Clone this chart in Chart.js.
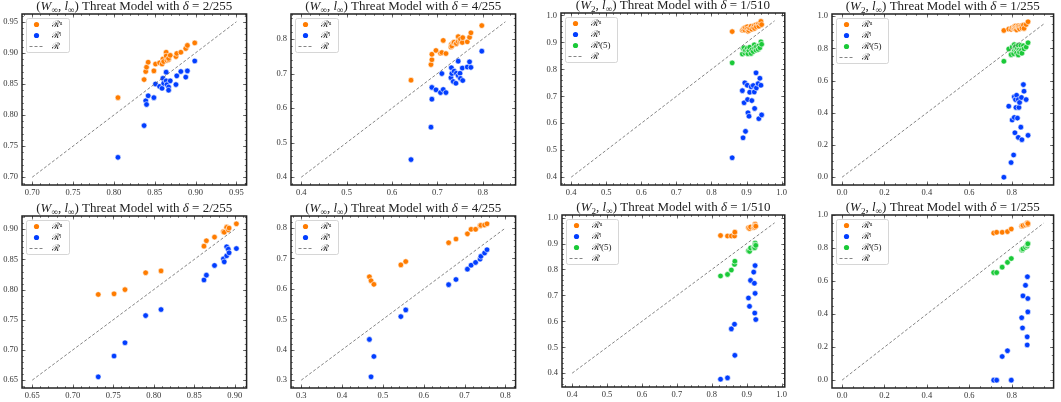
<!DOCTYPE html>
<html>
<head>
<meta charset="utf-8">
<script src="https://cdn.jsdelivr.net/npm/chart.js@4.4.1/dist/chart.umd.min.js"></script>
<style>
  body { margin: 0; background: #fff; }
  #page { position: relative; width: 1061px; height: 402px; overflow: hidden; }
  .cell { position: absolute; }
</style>
</head>
<body>
<div id="page"></div>
<script>
// ---- legend labels ----
const labelUpper = 'ℛᵘ';
const labelLower = 'ℛˡ';
const labelLower5 = 'ℛˡ(5)';
const labelRef = 'ℛ';

// ---- panel 1: (W_inf, l_inf), delta = 2/255 ----
const p1X     = [0.805,0.837,0.839,0.840,0.842,0.849,0.851,0.856,0.859,0.860,0.861,0.864,0.864,0.865,0.867,0.867,0.869,0.876,0.877,0.882,0.888,0.890,0.899];
const p1Upper = [0.828,0.857,0.870,0.877,0.885,0.871,0.882,0.884,0.882,0.890,0.886,0.901,0.895,0.888,0.889,0.891,0.896,0.894,0.899,0.901,0.907,0.912,0.916];
const p1Lower = [0.732,0.783,0.823,0.817,0.831,0.828,0.850,0.846,0.843,0.859,0.851,0.855,0.869,0.849,0.845,0.840,0.855,0.849,0.863,0.870,0.861,0.871,0.887];
const p1Ref   = [0.70, 0.95];
const p1Ticks = [0.70, 0.75, 0.80, 0.85, 0.90, 0.95];

// ---- panel 2: (W_inf, l_inf), delta = 4/255 ----
const p2X     = [0.642,0.686,0.688,0.688,0.697,0.707,0.710,0.713,0.719,0.730,0.731,0.732,0.735,0.737,0.741,0.742,0.746,0.746,0.750,0.751,0.755,0.756,0.766,0.771,0.774,0.798];
const p2Upper = [0.681,0.726,0.740,0.756,0.767,0.759,0.761,0.796,0.758,0.777,0.785,0.780,0.789,0.791,0.786,0.787,0.793,0.807,0.795,0.800,0.790,0.804,0.792,0.805,0.818,0.839];
const p2Lower = [0.451,0.545,0.626,0.660,0.653,0.645,0.700,0.654,0.645,0.688,0.717,0.700,0.677,0.707,0.672,0.701,0.736,0.694,0.701,0.686,0.716,0.680,0.719,0.734,0.718,0.765];
const p2Ref   = [0.40, 0.85];
const p2Ticks = [0.4, 0.5, 0.6, 0.7, 0.8];

// ---- panel 3: (W_2, l_inf), delta = 1/510 ----
const p3X      = [0.859,0.888,0.890,0.893,0.895,0.897,0.902,0.903,0.904,0.907,0.909,0.913,0.915,0.919,0.922,0.923,0.927,0.928,0.933,0.935,0.938,0.941,0.943];
const p3Upper  = [0.940,0.945,0.948,0.952,0.946,0.955,0.958,0.950,0.941,0.944,0.953,0.960,0.949,0.956,0.962,0.952,0.965,0.958,0.968,0.960,0.972,0.978,0.966];
const p3Lower  = [0.472,0.721,0.546,0.676,0.750,0.570,0.741,0.688,0.639,0.626,0.715,0.735,0.684,0.740,0.716,0.655,0.787,0.731,0.747,0.617,0.767,0.741,0.631];
const p3Lower5 = [0.824,0.857,0.877,0.880,0.861,0.870,0.878,0.865,0.858,0.870,0.882,0.859,0.872,0.866,0.891,0.878,0.871,0.884,0.874,0.887,0.880,0.902,0.893];
const p3Ref    = [0.40, 0.98];
const p3Ticks  = [0.4, 0.5, 0.6, 0.7, 0.8, 0.9, 1.0];

// ---- panel 4: (W_2, l_inf), delta = 1/255 ----
const p4X      = [0.763,0.786,0.797,0.802,0.809,0.812,0.812,0.815,0.818,0.820,0.823,0.827,0.831,0.831,0.834,0.837,0.843,0.846,0.848,0.855,0.858,0.868,0.877];
const p4Upper  = [0.911,0.920,0.918,0.928,0.925,0.936,0.930,0.922,0.938,0.927,0.915,0.934,0.929,0.940,0.932,0.921,0.940,0.935,0.926,0.944,0.924,0.948,0.965];
const p4Lower  = [0.000,0.441,0.091,0.355,0.138,0.371,0.499,0.276,0.482,0.433,0.509,0.367,0.247,0.482,0.433,0.464,0.311,0.495,0.233,0.575,0.534,0.482,0.260];
const p4Lower5 = [0.720,0.796,0.761,0.808,0.767,0.823,0.790,0.804,0.812,0.781,0.771,0.800,0.759,0.819,0.788,0.776,0.819,0.788,0.770,0.816,0.797,0.808,0.835];
const p4Ref    = [0.00, 0.95];
const p4XTicks = [0.0, 0.2, 0.4, 0.6, 0.8];
const p4YTicks = [0.0, 0.2, 0.4, 0.6, 0.8, 1.0];

// ---- panel 5: (W_inf, l_inf), delta = 2/255 ----
const p5X     = [0.7315,0.751,0.7645,0.790,0.809,0.862,0.865,0.875,0.886,0.887,0.890,0.890,0.892,0.893,0.902];
const p5Upper = [0.792,0.793,0.800,0.828,0.831,0.872,0.881,0.887,0.896,0.895,0.904,0.903,0.899,0.902,0.909];
const p5Lower = [0.6555,0.690,0.712,0.757,0.767,0.816,0.824,0.840,0.851,0.846,0.856,0.871,0.867,0.861,0.868];
const p5Ref   = [0.65, 0.90];
const p5Ticks = [0.65, 0.70, 0.75, 0.80, 0.85, 0.90];

// ---- panel 6: (W_inf, l_inf), delta = 4/255 ----
const p6X     = [0.467,0.471,0.478,0.544,0.556,0.661,0.679,0.707,0.716,0.727,0.738,0.740,0.749,0.755];
const p6Upper = [0.640,0.627,0.615,0.679,0.690,0.752,0.764,0.781,0.796,0.796,0.808,0.809,0.810,0.814];
const p6Lower = [0.434,0.311,0.378,0.509,0.531,0.614,0.631,0.665,0.678,0.687,0.698,0.707,0.718,0.729];
const p6Ref   = [0.30, 0.80];
const p6Ticks = [0.3, 0.4, 0.5, 0.6, 0.7, 0.8];

// ---- panel 7: (W_2, l_inf), delta = 1/510 ----
const p7X      = [0.825,0.845,0.856,0.865,0.866,0.905,0.908,0.911,0.920,0.922,0.923,0.924,0.924,0.926];
const p7Upper  = [0.931,0.929,0.929,0.929,0.944,0.961,0.958,0.964,0.962,0.966,0.963,0.975,0.969,0.967];
const p7Lower  = [0.377,0.382,0.571,0.589,0.469,0.690,0.658,0.758,0.790,0.747,0.632,0.815,0.708,0.607];
const p7Lower5 = [0.775,0.781,0.798,0.820,0.832,0.872,0.870,0.883,0.885,0.888,0.884,0.902,0.895,0.893];
const p7Ref    = [0.40, 0.98];
const p7Ticks  = [0.4, 0.5, 0.6, 0.7, 0.8, 0.9, 1.0];

// ---- panel 8: (W_2, l_inf), delta = 1/255 ----
const p8X      = [0.715,0.729,0.755,0.780,0.798,0.847,0.851,0.853,0.865,0.873,0.873,0.874,0.876,0.876];
const p8Upper  = [0.890,0.895,0.895,0.899,0.915,0.932,0.934,0.936,0.940,0.950,0.946,0.952,0.942,0.948];
const p8Lower  = [0.000,0.000,0.143,0.178,0.000,0.378,0.316,0.510,0.574,0.262,0.213,0.626,0.494,0.413];
const p8Lower5 = [0.651,0.651,0.684,0.713,0.736,0.787,0.790,0.795,0.804,0.814,0.812,0.822,0.829,0.825];
const p8Ref    = [0.00, 0.95];
const p8XTicks = [0.0, 0.2, 0.4, 0.6, 0.8];
const p8YTicks = [0.0, 0.2, 0.4, 0.6, 0.8, 1.0];

const ORANGE = '#ff7c00';
const BLUE = '#023eff';
const GREEN = '#1ac938';
const SERIF = '"Liberation Serif", "DejaVu Serif", serif';

function titleSegs(space, frac) {
    return [
        { t: '(', s: 'n' }, { t: 'W', s: 'i' }, { t: space, s: 'sub' },
        { t: ', ', s: 'n' }, { t: 'l', s: 'i' }, { t: '∞', s: 'sub' },
        { t: ') Threat Model with ', s: 'n' }, { t: 'δ', s: 'i' },
        { t: ' = ' + frac, s: 'n' }
    ];
}

const panels = [
    { title: titleSegs('∞', '2/255'), x: p1X, u: p1Upper, l: p1Lower, ref: p1Ref, xt: p1Ticks, yt: p1Ticks, dec: 2, box: [22, 14, 247, 185], row: 0 },
    { title: titleSegs('∞', '4/255'), x: p2X, u: p2Upper, l: p2Lower, ref: p2Ref, xt: p2Ticks, yt: p2Ticks, dec: 1, box: [291, 14, 516, 185], row: 0 },
    { title: titleSegs('2', '1/510'), x: p3X, u: p3Upper, l: p3Lower, l5: p3Lower5, ref: p3Ref, xt: p3Ticks, yt: p3Ticks, dec: 1, box: [561, 13, 787, 185], row: 0 },
    { title: titleSegs('2', '1/255'), x: p4X, u: p4Upper, l: p4Lower, l5: p4Lower5, ref: p4Ref, xt: p4XTicks, yt: p4YTicks, dec: 1, box: [832, 14, 1054, 185], row: 0 },
    { title: titleSegs('∞', '2/255'), x: p5X, u: p5Upper, l: p5Lower, ref: p5Ref, xt: p5Ticks, yt: p5Ticks, dec: 2, box: [22, 216, 247, 388], row: 200 },
    { title: titleSegs('∞', '4/255'), x: p6X, u: p6Upper, l: p6Lower, ref: p6Ref, xt: p6Ticks, yt: p6Ticks, dec: 1, box: [291, 216, 516, 388], row: 200 },
    { title: titleSegs('2', '1/510'), x: p7X, u: p7Upper, l: p7Lower, l5: p7Lower5, ref: p7Ref, xt: p7Ticks, yt: p7Ticks, dec: 1, box: [562, 215, 787, 387], row: 200 },
    { title: titleSegs('2', '1/255'), x: p8X, u: p8Upper, l: p8Lower, l5: p8Lower5, ref: p8Ref, xt: p8XTicks, yt: p8YTicks, dec: 1, box: [832, 215, 1054, 388], row: 200 }
];

// matplotlib-like limits: data range plus 5% margin
function limits(vals) {
    const lo = Math.min(...vals), hi = Math.max(...vals);
    const m = (hi - lo) * 0.05;
    return [lo - m, hi + m];
}

function minorValues(ticks, min, max) {
    const step = ticks[1] - ticks[0];
    const ms = Math.abs(step - 0.2) < 1e-9 ? step / 4 : step / 5;
    const out = [];
    for (let v = ticks[0]; v >= min - 1e-9; v -= ms) out.push(v);
    for (let v = ticks[0] + ms; v <= max + 1e-9; v += ms) out.push(v);
    return out;
}

const framePlugin = {
    id: 'frame',
    afterDatasetsDraw(chart, args, opts) {
        const { ctx, chartArea: a, scales } = chart;
        ctx.save();
        ctx.strokeStyle = '#333';
        ctx.lineWidth = 0.7;
        const sx = scales.x, sy = scales.y;
        const drawX = (vals, len) => vals.forEach(v => {
            const px = Math.round(sx.getPixelForValue(v)) + 0.5;
            if (px < a.left || px > a.right) return;
            ctx.beginPath();
            ctx.moveTo(px, a.bottom); ctx.lineTo(px, a.bottom - len);
            ctx.moveTo(px, a.top); ctx.lineTo(px, a.top + len);
            ctx.stroke();
        });
        const drawY = (vals, len) => vals.forEach(v => {
            const py = Math.round(sy.getPixelForValue(v)) + 0.5;
            if (py < a.top || py > a.bottom) return;
            ctx.beginPath();
            ctx.moveTo(a.left, py); ctx.lineTo(a.left + len, py);
            ctx.moveTo(a.right, py); ctx.lineTo(a.right - len, py);
            ctx.stroke();
        });
        drawX(opts.xt, 3.5);
        drawY(opts.yt, 3.5);
        drawX(minorValues(opts.xt, sx.min, sx.max), 1.8);
        drawY(minorValues(opts.yt, sy.min, sy.max), 1.8);
        ctx.lineWidth = 1.5;
        ctx.strokeStyle = '#222';
        ctx.strokeRect(a.left, a.top, a.right - a.left, a.bottom - a.top);
        ctx.restore();
    }
};

const legendPlugin = {
    id: 'boxLegend',
    afterDraw(chart, args, opts) {
        const { ctx, chartArea: a } = chart;
        const items = chart.data.datasets.map(ds => ({ label: ds.label, color: ds.pointBackgroundColor, line: ds.type === 'line' }));
        items.sort((p, q) => p.line - q.line);
        ctx.save();
        ctx.font = '9px ' + SERIF;
        const textW = Math.max(...items.map(it => ctx.measureText(it.label).width));
        const bx = a.left + 4.5, by = a.top + 4.5;
        const bw = Math.round(26 + textW + 6), bh = items.length * 11 + 1;
        ctx.fillStyle = 'rgba(255,255,255,0.85)';
        ctx.strokeStyle = '#cccccc';
        ctx.lineWidth = 0.8;
        ctx.beginPath();
        ctx.roundRect(bx, by, bw, bh, 2);
        ctx.fill();
        ctx.stroke();
        items.forEach((it, i) => {
            const cy = by + 6 + i * 11;
            if (it.line) {
                ctx.strokeStyle = '#666';
                ctx.lineWidth = 0.8;
                ctx.setLineDash([3, 2]);
                ctx.beginPath();
                ctx.moveTo(bx + 3, cy); ctx.lineTo(bx + 18, cy);
                ctx.stroke();
                ctx.setLineDash([]);
            } else {
                ctx.fillStyle = it.color;
                ctx.beginPath();
                ctx.arc(bx + 10, cy, 2.6, 0, Math.PI * 2);
                ctx.fill();
            }
            ctx.fillStyle = '#222';
            ctx.textBaseline = 'middle';
            ctx.fillText(it.label, bx + 25, cy);
        });
        ctx.restore();
    }
};

const titlePlugin = {
    id: 'mathTitle',
    afterDraw(chart, args, opts) {
        const { ctx, chartArea: a } = chart;
        const size = 13;
        const fontFor = s => (s === 'i' ? 'italic ' : '') + (s === 'sub' ? size * 0.7 : size) + 'px ' + SERIF;
        ctx.save();
        ctx.fillStyle = '#222';
        ctx.textBaseline = 'alphabetic';
        let total = 0;
        opts.segs.forEach(sg => { ctx.font = fontFor(sg.s); total += ctx.measureText(sg.t).width; });
        let x = (a.left + a.right) / 2 - total / 2;
        const base = a.top - 4;
        opts.segs.forEach(sg => {
            ctx.font = fontFor(sg.s);
            ctx.fillText(sg.t, x, sg.s === 'sub' ? base + 2.5 : base);
            x += ctx.measureText(sg.t).width;
        });
        ctx.restore();
    }
};

const page = document.getElementById('page');

panels.forEach(p => {
    const [L, T, R, B] = p.box;
    const yAxisW = 30, xAxisH = 16;
    const div = document.createElement('div');
    div.className = 'cell';
    div.style.left = (L - yAxisW) + 'px';
    div.style.top = p.row + 'px';
    div.style.width = (R - L + yAxisW + 3) + 'px';
    div.style.height = (B - p.row + xAxisH) + 'px';
    const canvas = document.createElement('canvas');
    div.appendChild(canvas);
    page.appendChild(div);

    const ys = p.u.concat(p.l, p.l5 || [], p.ref);
    const xl = limits(p.x.concat(p.ref));
    const yl = limits(ys);

    const pts = ys => p.x.map((v, i) => ({ x: v, y: ys[i] }));
    const dot = (label, ys, color) => ({
        type: 'scatter', label: label, data: pts(ys),
        pointRadius: 2.8, pointHoverRadius: 2.8,
        pointBackgroundColor: color, pointBorderColor: '#ffffff', pointBorderWidth: 0.6
    });
    const datasets = [
        {
            type: 'line', label: labelRef,
            data: [{ x: p.ref[0], y: p.ref[0] }, { x: p.ref[1], y: p.ref[1] }],
            borderColor: '#666', borderWidth: 0.8, borderDash: [3, 2],
            pointRadius: 0, fill: false, pointBackgroundColor: '#666'
        },
        dot(labelUpper, p.u, ORANGE),
        dot(labelLower, p.l, BLUE)
    ];
    if (p.l5) datasets.push(dot(labelLower5, p.l5, GREEN));

    const tickFont = { family: SERIF, size: 8.5 };
    new Chart(canvas.getContext('2d'), {
        data: { datasets: datasets },
        options: {
            responsive: true,
            maintainAspectRatio: false,
            animation: false,
            layout: { padding: { left: 0, right: 3, top: T - p.row, bottom: 0 } },
            plugins: {
                legend: { display: false },
                tooltip: { enabled: false },
                frame: { xt: p.xt, yt: p.yt },
                mathTitle: { segs: p.title }
            },
            scales: {
                x: {
                    type: 'linear', min: xl[0], max: xl[1],
                    afterBuildTicks: s => { s.ticks = p.xt.map(v => ({ value: v })); },
                    afterFit: s => { s.height = xAxisH; },
                    ticks: { autoSkip: false, maxRotation: 0, padding: 3, font: tickFont, color: '#333',
                        callback: v => Number(v).toFixed(p.dec) },
                    grid: { display: false, drawTicks: false, tickLength: 0 },
                    border: { display: false }
                },
                y: {
                    type: 'linear', min: yl[0], max: yl[1],
                    afterBuildTicks: s => { s.ticks = p.yt.map(v => ({ value: v })); },
                    afterFit: s => { s.width = yAxisW; },
                    ticks: { autoSkip: false, padding: 4, font: tickFont, color: '#333',
                        callback: v => Number(v).toFixed(p.dec) },
                    grid: { display: false, drawTicks: false, tickLength: 0 },
                    border: { display: false }
                }
            }
        },
        plugins: [framePlugin, legendPlugin, titlePlugin]
    });
});
</script>
</body>
</html>
